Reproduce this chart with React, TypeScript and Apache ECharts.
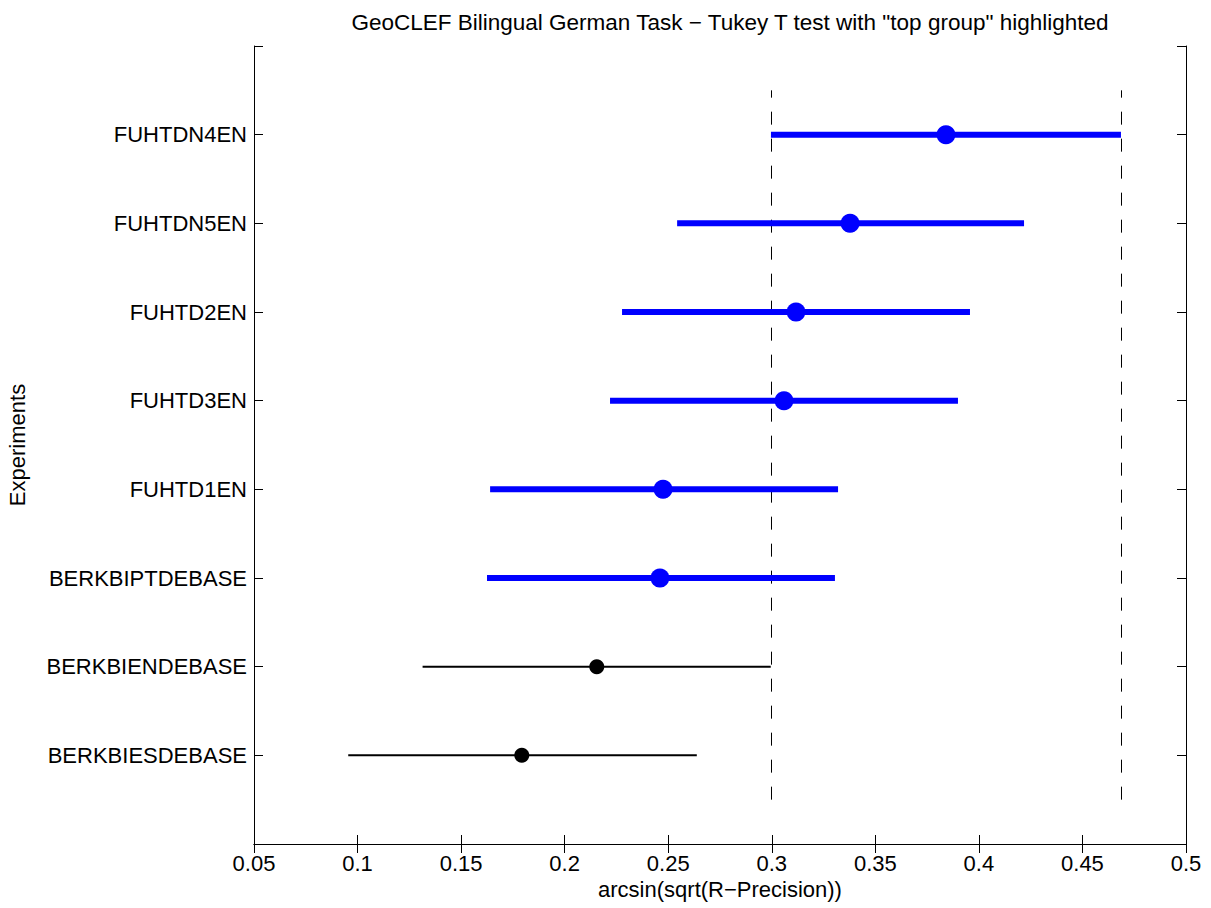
import React, { useEffect, useRef } from "react";
import * as echarts from "echarts";

const experiments = [
  "FUHTDN4EN",
  "FUHTDN5EN",
  "FUHTD2EN",
  "FUHTD3EN",
  "FUHTD1EN",
  "BERKBIPTDEBASE",
  "BERKBIENDEBASE",
  "BERKBIESDEBASE",
];
const means = [0.3841, 0.3378, 0.3117, 0.3059, 0.2475, 0.246, 0.2155, 0.1793];
const lowers = [0.2996, 0.2543, 0.2277, 0.2219, 0.164, 0.1625, 0.1314, 0.0955];
const uppers = [0.4686, 0.4218, 0.3957, 0.3899, 0.332, 0.3305, 0.2995, 0.2638];
const inTopGroup = [1, 1, 1, 1, 1, 1, 0, 0];
const groupBounds = [0.2996, 0.4686];
const xTicks = { min: 0.05, max: 0.5, interval: 0.05 };

const FONT = "'Liberation Sans', Arial, Helvetica, sans-serif";

export default function App() {
  const ref = useRef<HTMLDivElement>(null);
  useEffect(() => {
    if (!ref.current) return;
    const chart = echarts.init(ref.current, null, { renderer: "svg" });
    const n = experiments.length;
    const rows = experiments.map((_, i) => [lowers[i], means[i], uppers[i], n - i, inTopGroup[i]]);
    const boundRows = groupBounds.map((b) => [b, 0.5, n + 0.5]);
    const yLabel = (v: number) => (v >= 1 && v <= n ? experiments[n - v] : "");
    const xLabel = (v: number) => String(parseFloat(v.toFixed(2)));
    const axisLine = { show: true, lineStyle: { color: "#000", width: 1 } };
    const tick = { show: true, inside: true, length: 9, lineStyle: { color: "#000", width: 1 } };

    chart.setOption({
      animation: false,
      backgroundColor: "#fff",
      textStyle: { fontFamily: FONT },
      title: {
        text: 'GeoCLEF Bilingual German Task \u2212 Tukey T test with "top group" highlighted',
        left: 725,
        top: 6,
        textAlign: "center",
        textStyle: { fontFamily: FONT, fontSize: 22.5, fontWeight: "normal", color: "#000" },
      },
      grid: { left: 254, right: 25, top: 46, bottom: 64, show: false, outerBoundsMode: "none", containLabel: false },
      xAxis: [
        {
          type: "value",
          position: "bottom",
          min: xTicks.min,
          max: xTicks.max,
          interval: xTicks.interval,
          axisLine,
          axisTick: tick,
          splitLine: { show: false },
          axisLabel: { formatter: xLabel, fontSize: 22, color: "#000", fontFamily: FONT, margin: 8 },
          name: "arcsin(sqrt(R\u2212Precision))",
          nameLocation: "middle",
          nameGap: 28,
          nameTextStyle: { fontSize: 22, color: "#000", fontFamily: FONT },
        },
        {
          type: "value",
          position: "top",
          min: xTicks.min,
          max: xTicks.max,
          interval: xTicks.interval,
          axisLine,
          axisTick: tick,
          splitLine: { show: false },
          axisLabel: { show: false },
        },
      ],
      yAxis: [
        {
          type: "value",
          position: "left",
          min: 0,
          max: n + 1,
          interval: 1,
          axisLine,
          axisTick: tick,
          splitLine: { show: false },
          axisLabel: { formatter: yLabel, fontSize: 22, color: "#000", fontFamily: FONT, margin: 7 },
          name: "Experiments",
          nameLocation: "middle",
          nameGap: 226,
          nameTextStyle: { fontSize: 22, color: "#000", fontFamily: FONT },
        },
        {
          type: "value",
          position: "right",
          min: 0,
          max: n + 1,
          interval: 1,
          axisLine,
          axisTick: tick,
          splitLine: { show: false },
          axisLabel: { show: false },
        },
      ],
      series: [
        {
          type: "custom",
          silent: true,
          xAxisIndex: 0,
          yAxisIndex: 0,
          data: boundRows,
          encode: { x: 0, y: [1, 2] },
          renderItem: (params: any, api: any) => {
            const x = api.value(0);
            const p1 = api.coord([x, api.value(1)]);
            const p2 = api.coord([x, api.value(2)]);
            const px = Math.round(p1[0]) + 0.5;
            return {
              type: "line",
              shape: { x1: px, y1: p1[1], x2: px, y2: p2[1] },
              style: { stroke: "#000", lineWidth: 1, lineDash: [13, 14] },
            };
          },
        },
        {
          type: "custom",
          silent: true,
          xAxisIndex: 0,
          yAxisIndex: 0,
          data: rows,
          encode: { x: [0, 1, 2], y: 3 },
          renderItem: (params: any, api: any) => {
            const lo = api.value(0);
            const m = api.value(1);
            const hi = api.value(2);
            const y = api.value(3);
            const top = api.value(4) === 1;
            const p1 = api.coord([lo, y]);
            const p2 = api.coord([hi, y]);
            const pm = api.coord([m, y]);
            const color = top ? "#0000ff" : "#000000";
            return {
              type: "group",
              children: [
                {
                  type: "line",
                  shape: { x1: p1[0], y1: p1[1], x2: p2[0], y2: p2[1] },
                  style: { stroke: color, lineWidth: top ? 6 : 2 },
                },
                {
                  type: "circle",
                  shape: { cx: pm[0], cy: pm[1], r: top ? 9.5 : 7.5 },
                  style: { fill: color },
                },
              ],
            };
          },
        },
      ],
    });
    return () => chart.dispose();
  }, []);
  return (
    <div
      ref={ref}
      style={{ position: "fixed", left: 0, top: 0, width: 1211, height: 908, background: "#fff" }}
    />
  );
}
